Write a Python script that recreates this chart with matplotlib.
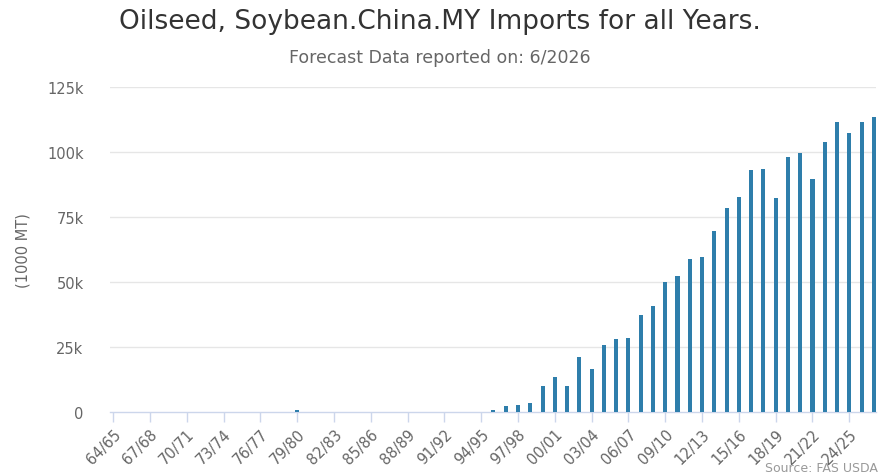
#!/usr/bin/env python3

# China soybean imports by marketing year (USDA FAS PSD style column chart)

import numpy as np
from matplotlib import pyplot as plt
import matplotlib

matplotlib.rcParams.update({
    'font.family': ['DejaVu Sans'],
    'figure.dpi': 100,
})

# marketing years 64/65 .. 26/27
start_years = list(range(1964, 2027))
seasons = ["%02d/%02d" % (y % 100, (y + 1) % 100) for y in start_years]

# imports, 1000 MT (zero before 95/96 except a small 79/80 value)
early_imports = [0] * 15 + [500] + [0] * 15
recent_imports = [800, 2060, 2570, 3470, 10020, 13240, 10020, 21200, 16450,
                  25700, 28140, 28530, 37270, 40600, 49860, 52170, 58720,
                  59620, 69780, 78390, 82880, 93030, 93550, 82370, 98050,
                  99590, 89690, 104090, 111540, 107430, 111540, 113470]
imports = early_imports + recent_imports

ytick_vals = [0, 25000, 50000, 75000, 100000, 125000]
ytick_labels = ["0", "25k", "50k", "75k", "100k", "125k"]

bar_color = '#2e7eab'
grid_color = '#e6e6e6'
axis_color = '#ccd6eb'
label_color = '#666666'

fig = plt.figure(figsize=(8.8, 4.77))
ax = fig.add_axes([0.125, 0.1348, 0.8708, 0.6797])

x = np.arange(len(seasons))
ax.bar(x, imports, width=0.33, color=bar_color, zorder=3)

ax.set_xlim(-0.25, len(seasons) - 0.8)
ax.set_ylim(0, 125000)

ax.set_yticks(ytick_vals)
ax.set_yticklabels(ytick_labels)
ax.tick_params(axis='y', length=0, pad=19, labelsize=10.5, labelcolor=label_color)
for v in ytick_vals[1:]:
    ax.axhline(v, color=grid_color, lw=1, zorder=1)

ax.set_xticks(x[::3])
ax.set_xticklabels(seasons[::3], rotation=45, ha='right', rotation_mode='anchor')
ax.tick_params(axis='x', length=7.5, width=1, color=axis_color, pad=3,
               labelsize=10.5, labelcolor=label_color)

for s in ['top', 'right', 'left']:
    ax.spines[s].set_visible(False)
ax.spines['bottom'].set_color(axis_color)
ax.spines['bottom'].set_linewidth(1)

ax.set_ylabel("(1000 MT)", fontsize=10.5, color=label_color, labelpad=12)

fig.text(0.5, 0.953, "Oilseed, Soybean.China.MY Imports for all Years.",
         ha='center', va='center', fontsize=19, color='#333333')
fig.text(0.5, 0.878, "Forecast Data reported on: 6/2026",
         ha='center', va='center', fontsize=12.5, color=label_color)
fig.text(0.998, 0.005, "Source: FAS USDA", ha='right', va='bottom',
         fontsize=9, color='#999999')

plt.savefig("out.png", dpi=100)
